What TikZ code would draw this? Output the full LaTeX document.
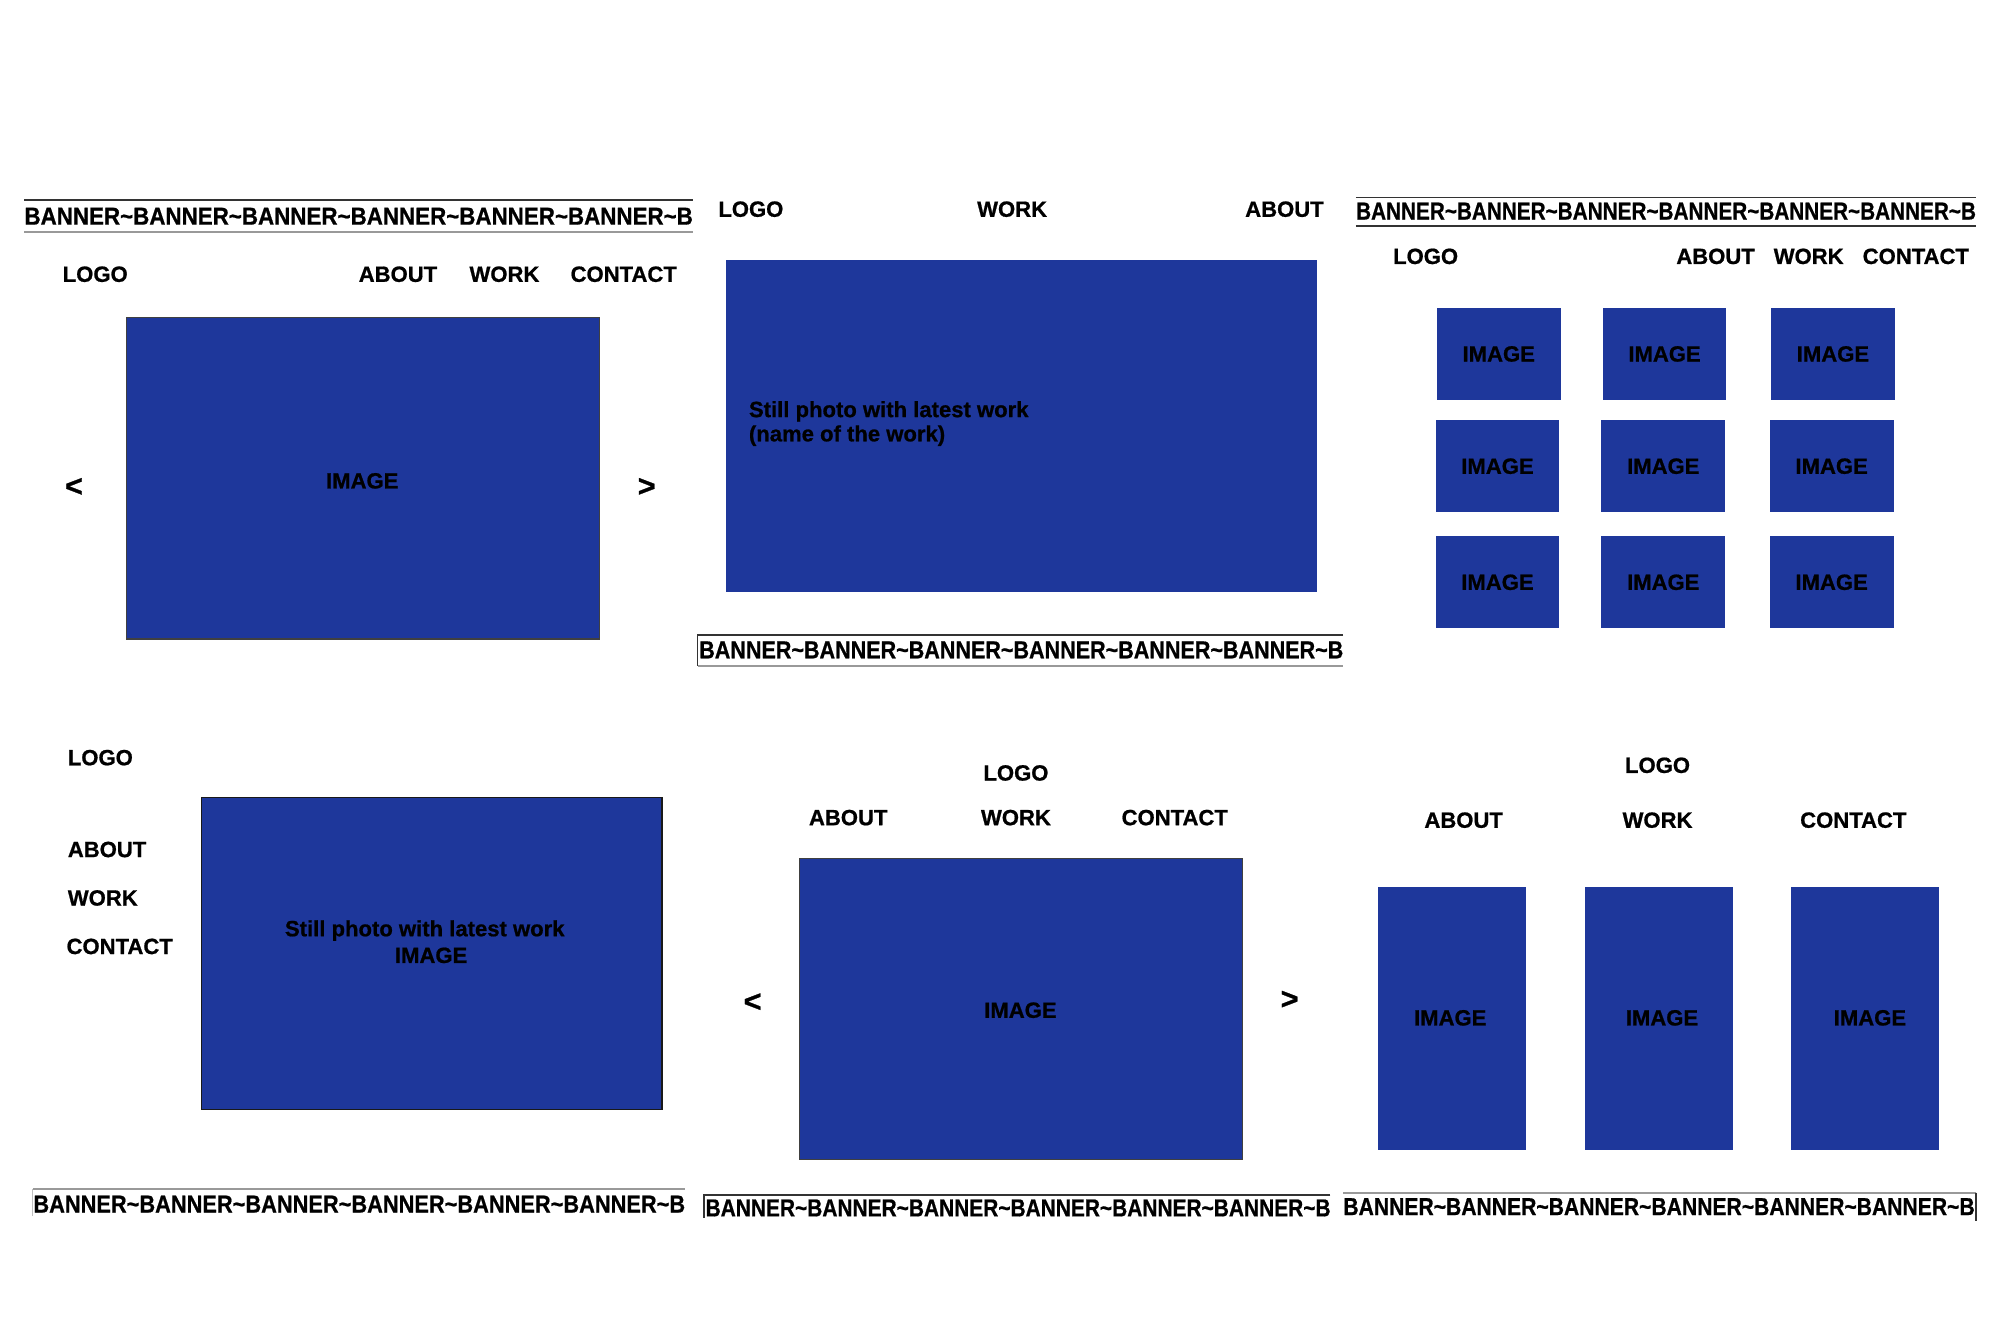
\documentclass[tikz,border=0pt]{standalone}
\usepackage{fontspec}
\setmainfont{Liberation Sans}
\newfontfamily\heavy{Liberation Sans Bold}[FakeBold=0.8]
\usepackage{graphicx}
\definecolor{imgblue}{RGB}{30,55,155}
\newcommand\bannertext{BANNER\textasciitilde BANNER\textasciitilde BANNER\textasciitilde BANNER\textasciitilde BANNER\textasciitilde BANNER\textasciitilde B}
\newcommand\bnr[1]{\resizebox{#1pt}{13.2pt}{\heavy\bannertext}}
\begin{document}
\begin{tikzpicture}[x=1pt,y=-1pt,
  lbl/.style={font=\fontsize{17.3}{20}\selectfont\heavy, inner sep=0pt},
  arr/.style={font=\fontsize{24}{26}\selectfont\heavy, inner sep=0pt},
  imgbox/.style={fill=imgblue, draw=#1, line width=1pt, inner sep=0pt},
  imgbox/.default=imgblue,
  bantext/.style={anchor=west, inner sep=0pt},
  darkline/.style={draw=black!80, line width=1.2pt},
  greyline/.style={draw=black!40, line width=1.5pt}]
\useasboundingbox[fill=white] (0,0) rectangle (1568,1045);

% ---------- Panel 1 ----------
\draw[darkline] (19,157) -- (543,157);
\draw[greyline] (19,182) -- (543,182);
\node[bantext] (b1) at (19,169.5) {\bnr{524}};
\node[lbl, anchor=west] (p1logo) at (49,215) {LOGO};
\node[lbl] (p1about) at (312,215) {ABOUT};
\node[lbl] (p1work) at (395.5,215) {WORK};
\node[lbl] (p1contact) at (489,215) {CONTACT};
\node[imgbox=black!75, minimum width=371pt, minimum height=252pt] (p1img) at (284.5,375) {};
\node[lbl] (p1imgl) at (284,377) {IMAGE};
\node[arr] (p1prev) at (58,382) {<};
\node[arr] (p1next) at (507,382) {>};

% ---------- Panel 2 ----------
\node[lbl, anchor=west] (p2logo) at (563,164) {LOGO};
\node[lbl] (p2work) at (793.5,164) {WORK};
\node[lbl] (p2about) at (1007,164) {ABOUT};
\node[imgbox, minimum width=462pt, minimum height=260pt] (p2img) at (801,334) {};
\node[lbl, anchor=base west] (p2t1) at (587,327) {Still photo with latest work};
\node[lbl, anchor=base west] (p2t2) at (587,346) {(name of the work)};
\draw[darkline] (1053,498) -- (547,498) -- (547,522);
\draw[greyline] (547,522) -- (1053,522);
\node[bantext] (b2) at (548,509.5) {\bnr{505}};

% ---------- Panel 3 ----------
\draw[darkline] (1063,155) -- (1549,155);
\draw[darkline] (1063,177) -- (1549,177);
\node[bantext] (b3) at (1063,165.5) {\bnr{486}};
\node[lbl, anchor=west] (p3logo) at (1092,201) {LOGO};
\node[lbl] (p3about) at (1345,201) {ABOUT};
\node[lbl] (p3work) at (1418,201) {WORK};
\node[lbl] (p3contact) at (1502,201) {CONTACT};
\foreach \i/\x/\y in {a/1175/277.5, b/1305/277.5, c/1437/277.5,
                      d/1174/365.5, e/1304/365.5, f/1436/365.5,
                      g/1174/456.5, h/1304/456.5, k/1436/456.5}{
  \node[imgbox, minimum width=96pt, minimum height=71pt] (g\i) at (\x,\y) {};
  \node[lbl] (g\i l) at (g\i.center) {IMAGE};
}

% ---------- Panel 4 ----------
\node[lbl, anchor=west] (p4logo) at (53,594) {LOGO};
\node[lbl, anchor=west] (p4about) at (53,666) {ABOUT};
\node[lbl, anchor=west] (p4work) at (53,704) {WORK};
\node[lbl, anchor=west] (p4contact) at (52,742) {CONTACT};
\node[imgbox=black!90, minimum width=361pt, minimum height=245pt] (p4img) at (338.5,747.5) {};
\node[lbl, anchor=base] (p4t1) at (333,734) {Still photo with latest work};
\node[lbl] (p4t2) at (338,749) {IMAGE};
\draw[greyline] (26,932) -- (537,932);
\draw[draw=black!25, line width=1.2pt] (25.6,932) -- (25.6,953);
\node[bantext] (b4) at (26,944) {\bnr{511}};

% ---------- Panel 5 ----------
\node[lbl] (p5logo) at (796.5,606) {LOGO};
\node[lbl] (p5about) at (665,641) {ABOUT};
\node[lbl] (p5work) at (796.5,641) {WORK};
\node[lbl] (p5contact) at (921,641) {CONTACT};
\node[imgbox=black!75, minimum width=347pt, minimum height=236pt] (p5img) at (800.5,791) {};
\node[lbl] (p5imgl) at (800,792) {IMAGE};
\node[arr] (p5prev) at (590,786) {<};
\node[arr] (p5next) at (1011,784) {>};
\draw[darkline] (1043,937) -- (552,937) -- (552,955);
\node[bantext] (b5) at (553,947) {\bnr{490}};

% ---------- Panel 6 ----------
\node[lbl] (p6logo) at (1299.5,600) {LOGO};
\node[lbl] (p6about) at (1147.5,643) {ABOUT};
\node[lbl] (p6work) at (1299.5,643) {WORK};
\node[lbl] (p6contact) at (1453,643) {CONTACT};
\node[imgbox, minimum width=115pt, minimum height=205pt] (c1) at (1138.5,798.5) {};
\node[imgbox, minimum width=115pt, minimum height=205pt] (c2) at (1300.5,798.5) {};
\node[imgbox, minimum width=115pt, minimum height=205pt] (c3) at (1462.5,798.5) {};
\node[lbl] (c1l) at (1137,798) {IMAGE};
\node[lbl] (c2l) at (1303,798) {IMAGE};
\node[lbl] (c3l) at (1466,798) {IMAGE};
\draw[greyline] (1053,935) -- (1549,935);
\draw[darkline] (1549,935) -- (1549,957);
\node[bantext] (b6) at (1053,946) {\bnr{495}};
\end{tikzpicture}
\end{document}
